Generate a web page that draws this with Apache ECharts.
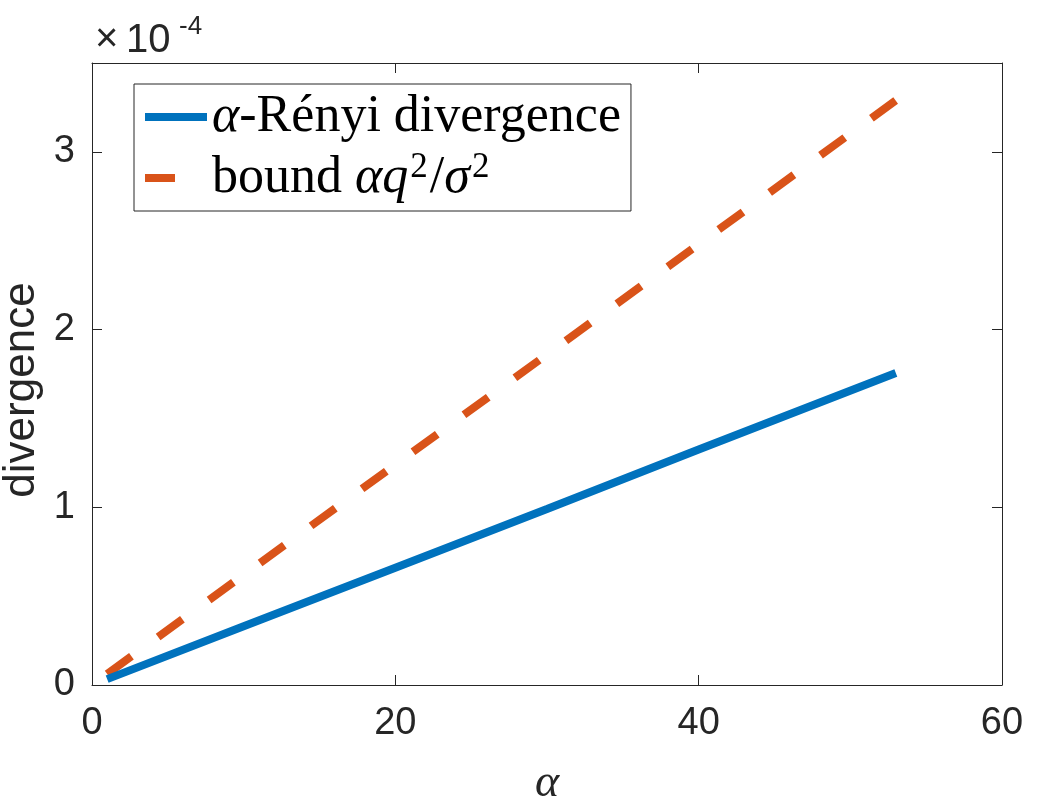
<!DOCTYPE html>
<html>
<head>
<meta charset="utf-8">
<script src="https://cdn.jsdelivr.net/npm/echarts@6/dist/echarts.min.js"></script>
<style>html,body{margin:0;padding:0;background:#fff;}#c{width:1055px;height:805px;}</style>
</head>
<body>
<div id="c"></div>
<script>
// values (divergence shown in units of 1e-4)
const alphaValues = [1, 10, 20, 30, 40, 53];
const renyiValues = [0.033, 0.33, 0.66, 0.99, 1.325, 1.756];
const boundValues = [0.062, 0.62, 1.24, 1.86, 2.48, 3.29];
const xTicks = [0, 20, 40, 60];
const yTicks = [0, 1, 2, 3];
const seriesNames = ['\u03b1-R\u00e9nyi divergence', 'bound \u03b1q\u00b2/\u03c3\u00b2'];

const pairs = (xs, ys) => xs.map((x, i) => [x, ys[i]]);

const axisColor = '#262626';
const sans = '"Liberation Sans", Arial, Helvetica, sans-serif';
const serif = '"Liberation Serif", "Times New Roman", serif';

const chart = echarts.init(document.getElementById('c'), null, {renderer: 'canvas'});

const baseX = {
  type: 'value', min: xTicks[0], max: xTicks[xTicks.length - 1], interval: xTicks[1] - xTicks[0],
  axisLine: {show: true, onZero: false, lineStyle: {color: axisColor, width: 1}},
  axisTick: {show: true, inside: true, length: 10, lineStyle: {color: axisColor, width: 1}},
  splitLine: {show: false}
};
const baseY = {
  type: 'value', min: yTicks[0], max: 3.5, interval: yTicks[1] - yTicks[0],
  axisLine: {show: true, onZero: false, lineStyle: {color: axisColor, width: 1}},
  axisTick: {show: true, inside: true, length: 10, lineStyle: {color: axisColor, width: 1}},
  splitLine: {show: false}
};

const rich = {
  t: {fontFamily: serif, fontSize: 52, lineHeight: 56, color: '#000'},
  i: {fontFamily: serif, fontSize: 52, lineHeight: 56, fontStyle: 'italic', color: '#000'},
  sup: {fontFamily: serif, fontSize: 35, lineHeight: 56, color: '#000', verticalAlign: 'top', padding: [0, 2, 0, 2]}
};

chart.setOption({
  animation: false,
  backgroundColor: '#fff',
  grid: {left: 92, right: 53, top: 63, bottom: 120, containLabel: false, outerBoundsMode: 'none'},
  xAxis: [
    Object.assign({}, baseX, {
      position: 'bottom',
      name: '\u03b1', nameLocation: 'middle', nameGap: 76,
      nameTextStyle: {fontFamily: serif, fontStyle: 'italic', fontSize: 46, color: axisColor},
      axisLabel: {show: true, margin: 20, fontFamily: sans, fontSize: 38, color: axisColor}
    }),
    Object.assign({}, baseX, {position: 'top', axisLabel: {show: false}})
  ],
  yAxis: [
    Object.assign({}, baseY, {
      position: 'left',
      axisLabel: {show: true, margin: 17, fontFamily: sans, fontSize: 38, color: axisColor,
        showMaxLabel: false}
    }),
    Object.assign({}, baseY, {position: 'right', axisLabel: {show: false}})
  ],
  legend: {
    show: true, orient: 'vertical', left: 134, top: 84,
    itemWidth: 62, itemHeight: 14, itemGap: 5,
    padding: [5, 10, 5, 7],
    borderColor: '#262626', borderWidth: 1, backgroundColor: '#fff',
    data: seriesNames,
    lineStyle: {width: 8, cap: 'butt'},
    itemStyle: {color: 'transparent', borderWidth: 0, opacity: 0},
    formatter: function (name) {
      if (name === seriesNames[0]) return '{i|\u03b1}{t|-R\u00e9nyi divergence}';
      return '{t|bound }{i|\u03b1q}{sup|2}{t|/}{i|\u03c3}{sup|2}';
    },
    textStyle: {fontFamily: serif, fontSize: 52, lineHeight: 56, color: '#000', rich: rich}
  },
  graphic: [
    {type: 'text', x: 95, y: 20, style: {text: '\u00d7', fontFamily: sans, fontSize: 40, fill: axisColor}},
    {type: 'text', x: 126, y: 21, style: {text: '10', fontFamily: sans, fontSize: 40, fill: axisColor}},
    {type: 'text', x: 179, y: 14, style: {text: '-4', fontFamily: sans, fontSize: 26, fill: axisColor}},
    {type: 'text', x: 22, y: 390, rotation: Math.PI / 2,
      style: {text: 'divergence', fontFamily: sans, fontSize: 44, fill: axisColor, align: 'center', verticalAlign: 'middle'}}
  ],
  series: [
    {
      name: seriesNames[0], type: 'line', xAxisIndex: 0, yAxisIndex: 0,
      data: pairs(alphaValues, renyiValues),
      showSymbol: false, symbol: 'none', clip: false,
      lineStyle: {color: '#0072BD', width: 8, type: 'solid', cap: 'butt'},
      itemStyle: {color: '#0072BD'}, z: 3
    },
    {
      name: seriesNames[1], type: 'line', xAxisIndex: 0, yAxisIndex: 0,
      data: pairs(alphaValues, boundValues),
      showSymbol: false, symbol: 'none', clip: false,
      lineStyle: {color: '#D95319', width: 8, type: [30, 33], cap: 'butt'},
      itemStyle: {color: '#D95319'}, z: 2
    }
  ]
});
</script>
</body>
</html>
